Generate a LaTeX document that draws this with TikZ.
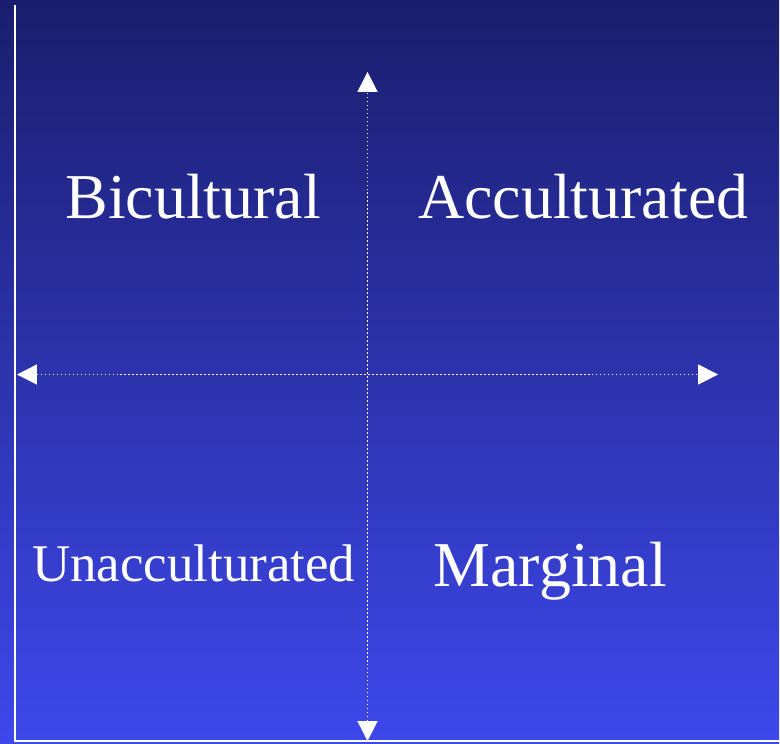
\documentclass[tikz,border=0pt]{standalone}
\usepackage{fontspec}
\setmainfont{Liberation Serif}
\usetikzlibrary{arrows.meta, positioning}
\definecolor{bgtop}{RGB}{26,30,110}
\definecolor{bgbottom}{RGB}{62,72,235}
\tikzset{
  axisline/.style={white, line width=1.4pt, dash pattern=on 1.6pt off 2.4pt,
    {Triangle[length=20pt, width=20pt]}-{Triangle[length=20pt, width=20pt]}},
  frameline/.style={white, line width=2pt},
  quadlabel/.style={anchor=base, text=white, inner sep=0pt, font=\fontsize{64}{72}\selectfont}
}
\begin{document}
\begin{tikzpicture}[x=1pt, y=1pt]
  % background
  \shade[top color=bgtop, bottom color=bgbottom] (0,0) rectangle (780,744);
  % frame
  \coordinate (frametop) at (15,739);
  \coordinate (corner) at (15,2);
  \coordinate (frameright) at (780,2);
  \draw[frameline] (frametop) -- (corner) -- (frameright);
  % axes
  \coordinate (up) at (368,672);
  \coordinate (down) at (368,2);
  \coordinate (left) at (17,369);
  \coordinate (right) at (719,369);
  \draw[axisline] (down) -- (up);
  \draw[axisline] (left) -- (right);
  % quadrant labels
  \node[quadlabel] (bicult) at (193.5,525) {Bicultural};
  \node[quadlabel] (accult) at (584,525) {Acculturated};
  \node[quadlabel, font=\fontsize{53}{60}\selectfont] (unaccult) at (194,162) {Unacculturated};
  \node[quadlabel] (marginal) at (551,157) {Marginal};
\end{tikzpicture}
\end{document}
